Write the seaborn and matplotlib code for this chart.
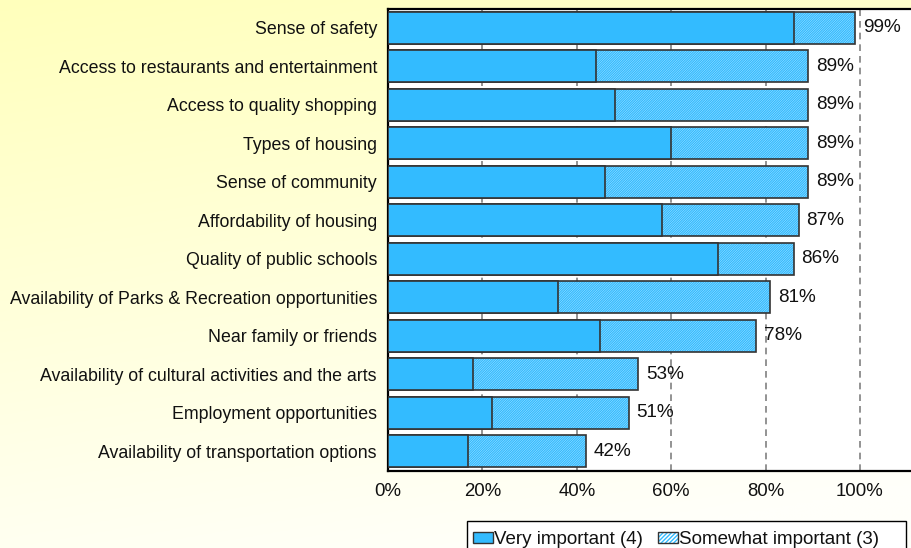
import numpy as np
import pandas as pd
import matplotlib
matplotlib.use("Agg")
import matplotlib.pyplot as plt
from matplotlib.patches import Patch, Rectangle
from matplotlib.legend_handler import HandlerTuple
import seaborn as sns

# Survey data: share of respondents rating each factor
categories = [
    "Sense of safety",
    "Access to restaurants and entertainment",
    "Access to quality shopping",
    "Types of housing",
    "Sense of community",
    "Affordability of housing",
    "Quality of public schools",
    "Availability of Parks & Recreation opportunities",
    "Near family or friends",
    "Availability of cultural activities and the arts",
    "Employment opportunities",
    "Availability of transportation options",
]
very_important = [86, 44, 48, 60, 46, 58, 70, 36, 45, 18, 22, 17]
somewhat_important = [13, 45, 41, 29, 43, 29, 16, 45, 33, 35, 29, 25]
tick_values = [0, 20, 40, 60, 80, 100]
series_names = ["Very important (4)", "Somewhat important (3)"]

BLUE = "#33BBFF"
EDGE = "#333333"
HATCH = "/" * 14

sns.set_theme(style="white")
plt.rcParams["font.family"] = ["Liberation Sans", "DejaVu Sans"]
plt.rcParams["hatch.linewidth"] = 1.0

df = pd.DataFrame({
    "factor": categories,
    "very": very_important,
    "somewhat": somewhat_important,
})
df["total"] = df["very"] + df["somewhat"]

W, H = 911, 548
fig = plt.figure(figsize=(W / 100, H / 100), dpi=100)

# soft yellow-to-white backdrop
bg = fig.add_axes([0, 0, 1, 1], zorder=-10)
yy, xx = np.mgrid[0:1:200j, 0:1:300j]
t = np.clip(0.85 * yy + 0.25 * xx, 0, 1)
top = np.array([255, 255, 188]) / 255
bot = np.array([255, 255, 250]) / 255
grad = top[None, None, :] * (1 - t[..., None]) + bot[None, None, :] * t[..., None]
bg.imshow(grad, aspect="auto", extent=[0, 1, 0, 1], origin="upper")
bg.axis("off")

px = 4.72  # pixels per percent
left_px, top_px, bottom_px = 388, 8.5, 470.5
xmax = 112
ax = fig.add_axes([left_px / W, 1 - bottom_px / H,
                   xmax * px / W, (bottom_px - top_px) / H])
ax.set_facecolor("white")

bar_w = 0.84
# hatched "somewhat" layer spans the full total; solid layer covers its left part
sns.barplot(data=df, x="total", y="factor", orient="h", color="white",
            saturation=1, edgecolor=BLUE, hatch=HATCH, linewidth=0,
            width=bar_w, ax=ax, zorder=2)
sns.barplot(data=df, x="total", y="factor", orient="h", color=EDGE,
            fill=False, linewidth=1.2, width=bar_w, ax=ax, zorder=3)
sns.barplot(data=df, x="very", y="factor", orient="h", color=BLUE,
            saturation=1, edgecolor=EDGE, linewidth=1.2, width=bar_w,
            ax=ax, zorder=4)

for i, tot in enumerate(df["total"]):
    ax.annotate(f"{tot}%", xy=(tot, i), xytext=(5.5, 0),
                textcoords="offset points", va="center", ha="left",
                fontsize=13.6, color="#111111", zorder=6)

ax.set_xlim(0, xmax)
ax.set_ylim(len(categories) - 0.5, -0.5)
ax.set_xticks(tick_values)
ax.set_xticklabels([f"{v}%" for v in tick_values])
ax.set_xlabel("")
ax.set_ylabel("")
ax.tick_params(axis="both", length=0, colors="#111111")
ax.tick_params(axis="x", pad=9, labelsize=13.4)
ax.tick_params(axis="y", pad=8, labelsize=12.8)

ax.set_axisbelow(True)
ax.xaxis.grid(True, linestyle=(0, (4, 3)), color="#808080", linewidth=1.2)
ax.yaxis.grid(False)
for side in ["left", "top", "bottom"]:
    ax.spines[side].set_visible(True)
    ax.spines[side].set_color("black")
    ax.spines[side].set_linewidth(1.6)
ax.spines["right"].set_visible(False)

# legend box runs past the lower edge of the figure
fig.patches.append(Rectangle((467 / W, -0.05), (906 - 467) / W,
                             0.05 + 1 - 521 / H, transform=fig.transFigure,
                             facecolor="white", edgecolor="black",
                             linewidth=1.0, zorder=1))

h_very = Patch(facecolor=BLUE, edgecolor=EDGE, linewidth=1.0)
h_some = (Patch(facecolor="white", edgecolor=BLUE, hatch="/" * 8, linewidth=0),
          Patch(facecolor="none", edgecolor=EDGE, linewidth=1.0))
leg = fig.legend([h_very, h_some], series_names,
                 loc="upper left", bbox_to_anchor=(472.5 / W, 1 - 531 / H),
                 ncol=2, frameon=False, fontsize=13.5,
                 borderpad=0, handlelength=1.07, handleheight=0.5,
                 handletextpad=0.06, columnspacing=0.8, borderaxespad=0,
                 handler_map={tuple: HandlerTuple(ndivide=1, pad=0)})
leg.set_zorder(2)
for txt in leg.get_texts():
    txt.set_color("#111111")

fig.savefig("out.png", dpi=100)
